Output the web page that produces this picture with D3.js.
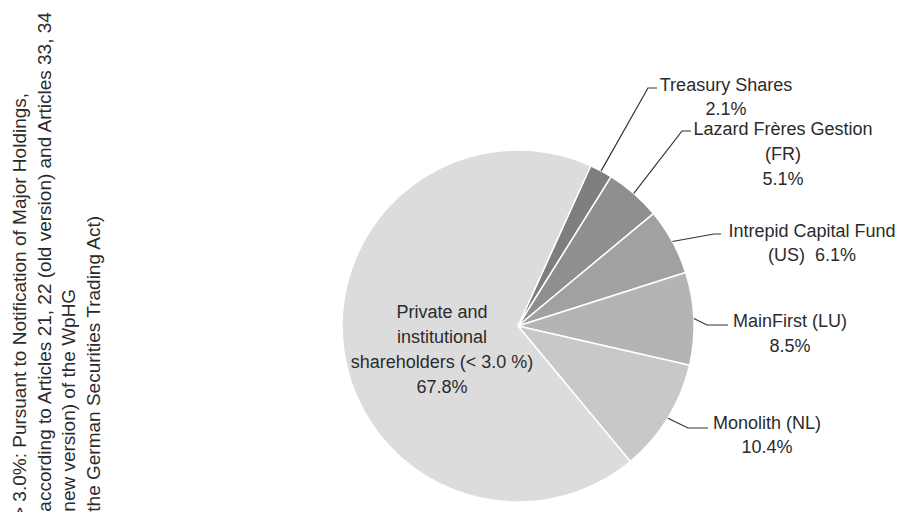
<!DOCTYPE html>
<html>
  <head>
    <meta charset="utf-8">
    <title>Shareholder structure</title>
    <script src="https://d3js.org/d3.v7.min.js"></script>
    <style>
      body { margin: 0; background: #fff; }
      text { font-family: "Liberation Sans", Arial, sans-serif; font-size: 18px; fill: #2b2b2b; }
      text.note { font-size: 19px; }
    </style>
  </head>
  <body>
    <div id="chart"></div>
  </body>
  <script>
  // data, clockwise from the first slice
  var holders = ["Treasury Shares", "Lazard Frères Gestion (FR)", "Intrepid Capital Fund (US)",
                 "MainFirst (LU)", "Monolith (NL)", "Private and institutional shareholders (< 3.0 %)"];
  var shares  = [2.1, 5.1, 6.1, 8.5, 10.4, 67.8];
  var labelLines = [
    ["Treasury Shares", "2.1%"],
    ["Lazard Frères Gestion", "(FR)", "5.1%"],
    ["Intrepid Capital Fund", "(US)  6.1%"],
    ["MainFirst (LU)", "8.5%"],
    ["Monolith (NL)", "10.4%"],
    ["Private and", "institutional", "shareholders (< 3.0 %)", "67.8%"]
  ];
  var noteLines = [
    "> 3.0%: Pursuant to Notification of Major Holdings,",
    "(according to Articles 21, 22 (old version) and Articles 33, 34",
    "(new version) of the WpHG",
    "(the German Securities Trading Act)"
  ];

  // layout
  var W = 903, H = 512;
  var cx = 518, cy = 326, R = 176;
  var startDeg = 24.4;
  var colors = ["#7e7e7e", "#8f8f8f", "#a1a1a1", "#b4b4b4", "#c8c8c8", "#dcdcdc"];
  // label centre x, first baseline y, elbow of leader line
  var labelPos = [
    {x: 726, y: 91,  ex: 648, ey: 88,  hx: 657},
    {x: 783, y: 135, ex: 682, ey: 131, hx: 691},
    {x: 812, y: 237, ex: 714, ey: 234, hx: 721},
    {x: 790, y: 327, ex: 707, ey: 325, hx: 728},
    {x: 767, y: 429, ex: 688, ey: 428, hx: 708},
    {x: 442, y: 318}
  ];

  var svg = d3.select("#chart").append("svg")
      .attr("width", W)
      .attr("height", H);

  var rad = startDeg * Math.PI / 180;
  var pie = d3.pie().sort(null).value(d => d)
      .startAngle(rad).endAngle(rad + 2 * Math.PI);
  var arcs = pie(shares);
  var arc = d3.arc().innerRadius(0).outerRadius(R);

  var g = svg.append("g").attr("transform", "translate(" + cx + "," + cy + ")");
  g.selectAll("path")
      .data(arcs)
      .enter()
      .append("path")
      .attr("d", arc)
      .attr("fill", (d, i) => colors[i])
      .attr("stroke", "#fff")
      .attr("stroke-width", 1.5)
      .attr("stroke-linejoin", "round");

  // leader lines for the small slices
  var leaders = arcs.slice(0, 5);
  svg.selectAll("polyline.leader")
      .data(leaders)
      .enter()
      .append("polyline")
      .attr("class", "leader")
      .attr("fill", "none")
      .attr("stroke", "#333")
      .attr("stroke-width", 1.2)
      .attr("points", (d, i) => {
        var a = (d.startAngle + d.endAngle) / 2;
        var px = cx + R * Math.sin(a), py = cy - R * Math.cos(a);
        var p = labelPos[i];
        return [px, py, p.ex, p.ey, p.hx, p.ey].join(",");
      });

  // slice labels
  svg.selectAll("text.lbl")
      .data(labelLines)
      .enter()
      .append("text")
      .attr("class", "lbl")
      .attr("text-anchor", "middle")
      .each(function(lines, i) {
        var t = d3.select(this);
        var step = i === 0 || i === 2 || i === 4 ? 24 : 25;
        lines.forEach((s, k) => {
          t.append("tspan")
            .attr("x", labelPos[i].x)
            .attr("y", labelPos[i].y + k * step)
            .attr("xml:space", "preserve")
            .text(s);
        });
      });

  // rotated note on the left
  svg.selectAll("text.note")
      .data(noteLines)
      .enter()
      .append("text")
      .attr("class", "note")
      .attr("transform", (d, i) => "translate(" + (26 + i * 24.5) + "," + 518 + ") rotate(-90)")
      .text(d => d);
  </script>
</html>
